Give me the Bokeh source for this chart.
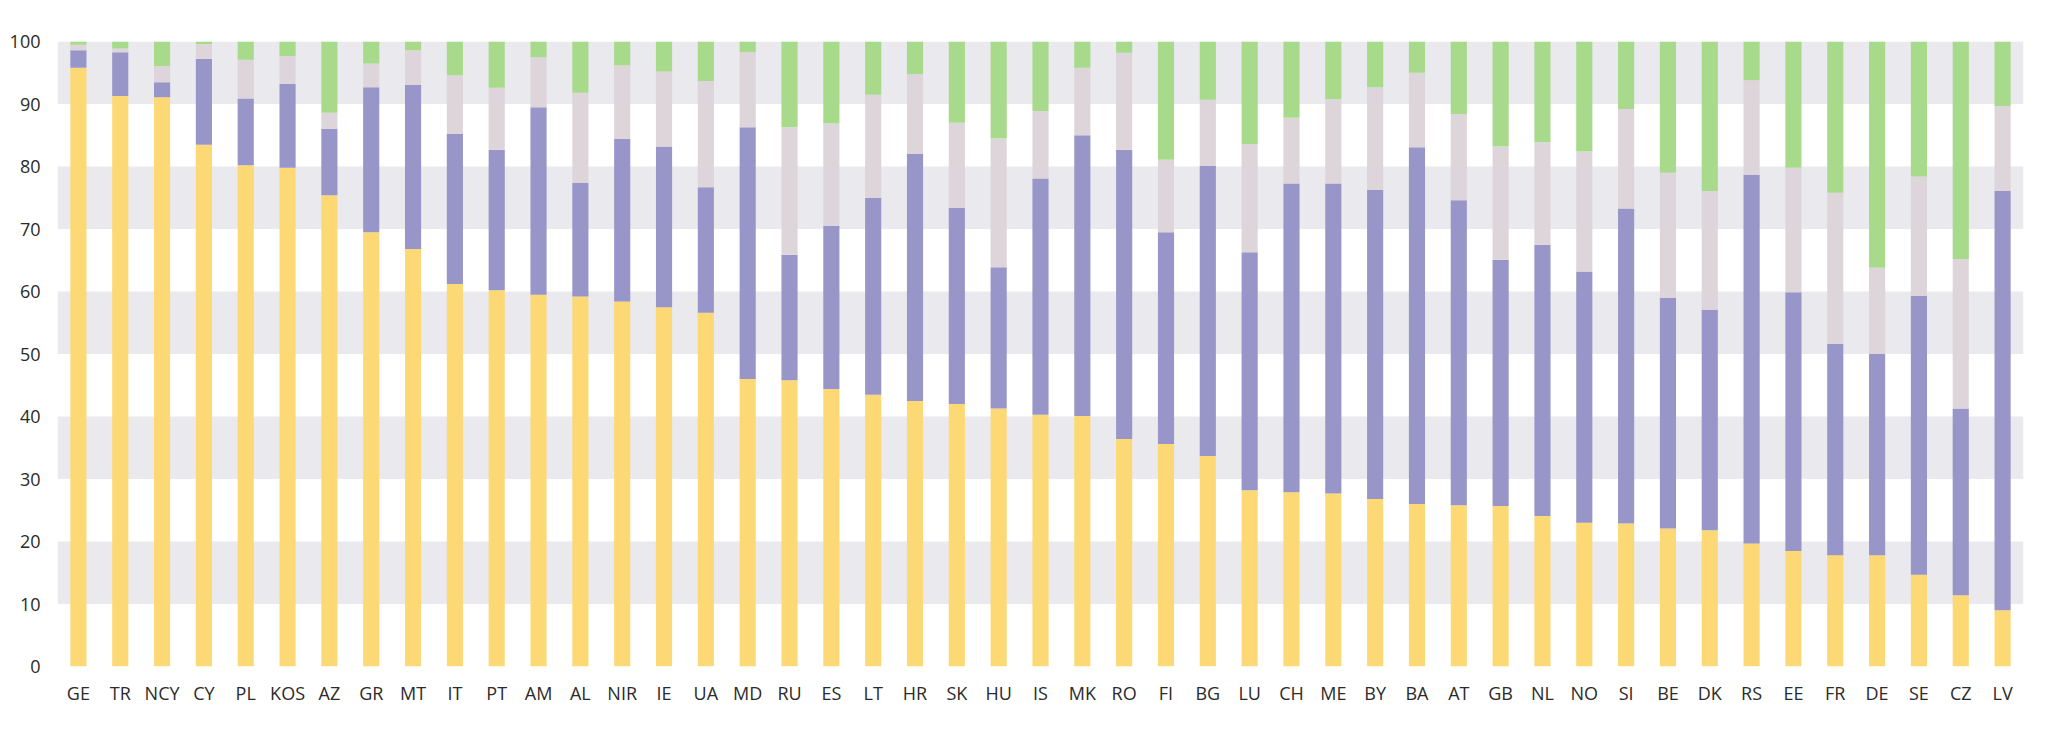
from bokeh.plotting import figure
from bokeh.models import FactorRange, Range1d, FixedTicker, BoxAnnotation, ColumnDataSource
from bokeh.embed import file_html
from bokeh.resources import INLINE

countries = ["GE", "TR", "NCY", "CY", "PL", "KOS", "AZ", "GR", "MT", "IT", "PT", "AM",
             "AL", "NIR", "IE", "UA", "MD", "RU", "ES", "LT", "HR", "SK", "HU", "IS",
             "MK", "RO", "FI", "BG", "LU", "CH", "ME", "BY", "BA", "AT", "GB", "NL",
             "NO", "SI", "BE", "DK", "RS", "EE", "FR", "DE", "SE", "CZ", "LV"]

# cumulative tops
yellow_top = [95.8, 91.3, 91.1, 83.5, 80.2, 79.8, 75.4, 69.5, 66.8, 61.2, 60.2, 59.5,
              59.2, 58.4, 57.5, 56.6, 46.0, 45.8, 44.4, 43.5, 42.5, 42.0, 41.3, 40.3,
              40.1, 36.4, 35.6, 33.7, 28.2, 27.9, 27.7, 26.8, 26.0, 25.8, 25.7, 24.1,
              23.0, 22.9, 22.1, 21.8, 19.7, 18.5, 17.8, 17.8, 14.7, 11.4, 9.0]
purple_top = [98.6, 98.3, 93.5, 97.2, 90.9, 93.2, 86.0, 92.7, 93.1, 85.2, 82.7, 89.5,
              77.4, 84.4, 83.2, 76.7, 86.3, 65.9, 70.5, 75.0, 82.0, 73.4, 63.9, 78.1,
              85.0, 82.7, 69.5, 80.1, 66.3, 77.3, 77.3, 76.3, 83.1, 74.6, 65.1, 67.5,
              63.2, 73.3, 59.0, 57.1, 78.7, 59.9, 51.6, 50.0, 59.3, 41.3, 76.1]
pink_top = [99.5, 98.9, 96.1, 99.6, 97.1, 97.7, 88.6, 96.5, 98.6, 94.6, 92.6, 97.5,
            91.8, 96.2, 95.2, 93.7, 98.3, 86.3, 86.9, 91.5, 94.8, 87.0, 84.5, 88.9,
            95.8, 98.2, 81.1, 90.7, 83.6, 87.8, 90.8, 92.7, 95.0, 88.4, 83.2, 83.9,
            82.4, 89.2, 79.0, 76.1, 93.8, 79.8, 75.8, 63.8, 78.4, 65.2, 89.7]
total = 100

ticks = list(range(0, 101, 10))

yellow = yellow_top
purple = [b - a for a, b in zip(yellow_top, purple_top)]
pink = [b - a for a, b in zip(purple_top, pink_top)]
green = [total - a for a in pink_top]

src = ColumnDataSource(dict(x=countries, yellow=yellow, purple=purple, pink=pink, green=green))

p = figure(x_range=FactorRange(*countries, range_padding=0), y_range=Range1d(0, 100),
           width=2032, height=707, output_backend="svg", toolbar_location=None,
           min_border_left=57, min_border_right=9, min_border_top=41, min_border_bottom=30)

for lo in ticks[1::2]:
    p.add_layout(BoxAnnotation(bottom=lo, top=lo + 10, fill_color="#e9e9ee", fill_alpha=1,
                               line_color=None, level="underlay"))

p.vbar_stack(["yellow", "purple", "pink", "green"], x="x", width=0.386, source=src,
             color=["#fdd976", "#9896c8", "#ded5da", "#a8da8b"], line_color=None)

p.outline_line_color = None
p.xgrid.grid_line_color = None
p.ygrid.grid_line_color = None
p.yaxis.ticker = FixedTicker(ticks=ticks)
for ax in (p.xaxis, p.yaxis):
    ax.axis_line_color = None
    ax.major_tick_line_color = None
    ax.minor_tick_line_color = None
    ax.major_label_text_font = "Open Sans"
    ax.major_label_text_font_size = "18px"
    ax.major_label_text_color = "#2b2b2b"
p.xaxis.major_label_standoff = 8
p.yaxis.major_label_standoff = 11
p.yaxis.major_label_text_baseline = "alphabetic"

open("out.html", "w").write(file_html(p, INLINE))
